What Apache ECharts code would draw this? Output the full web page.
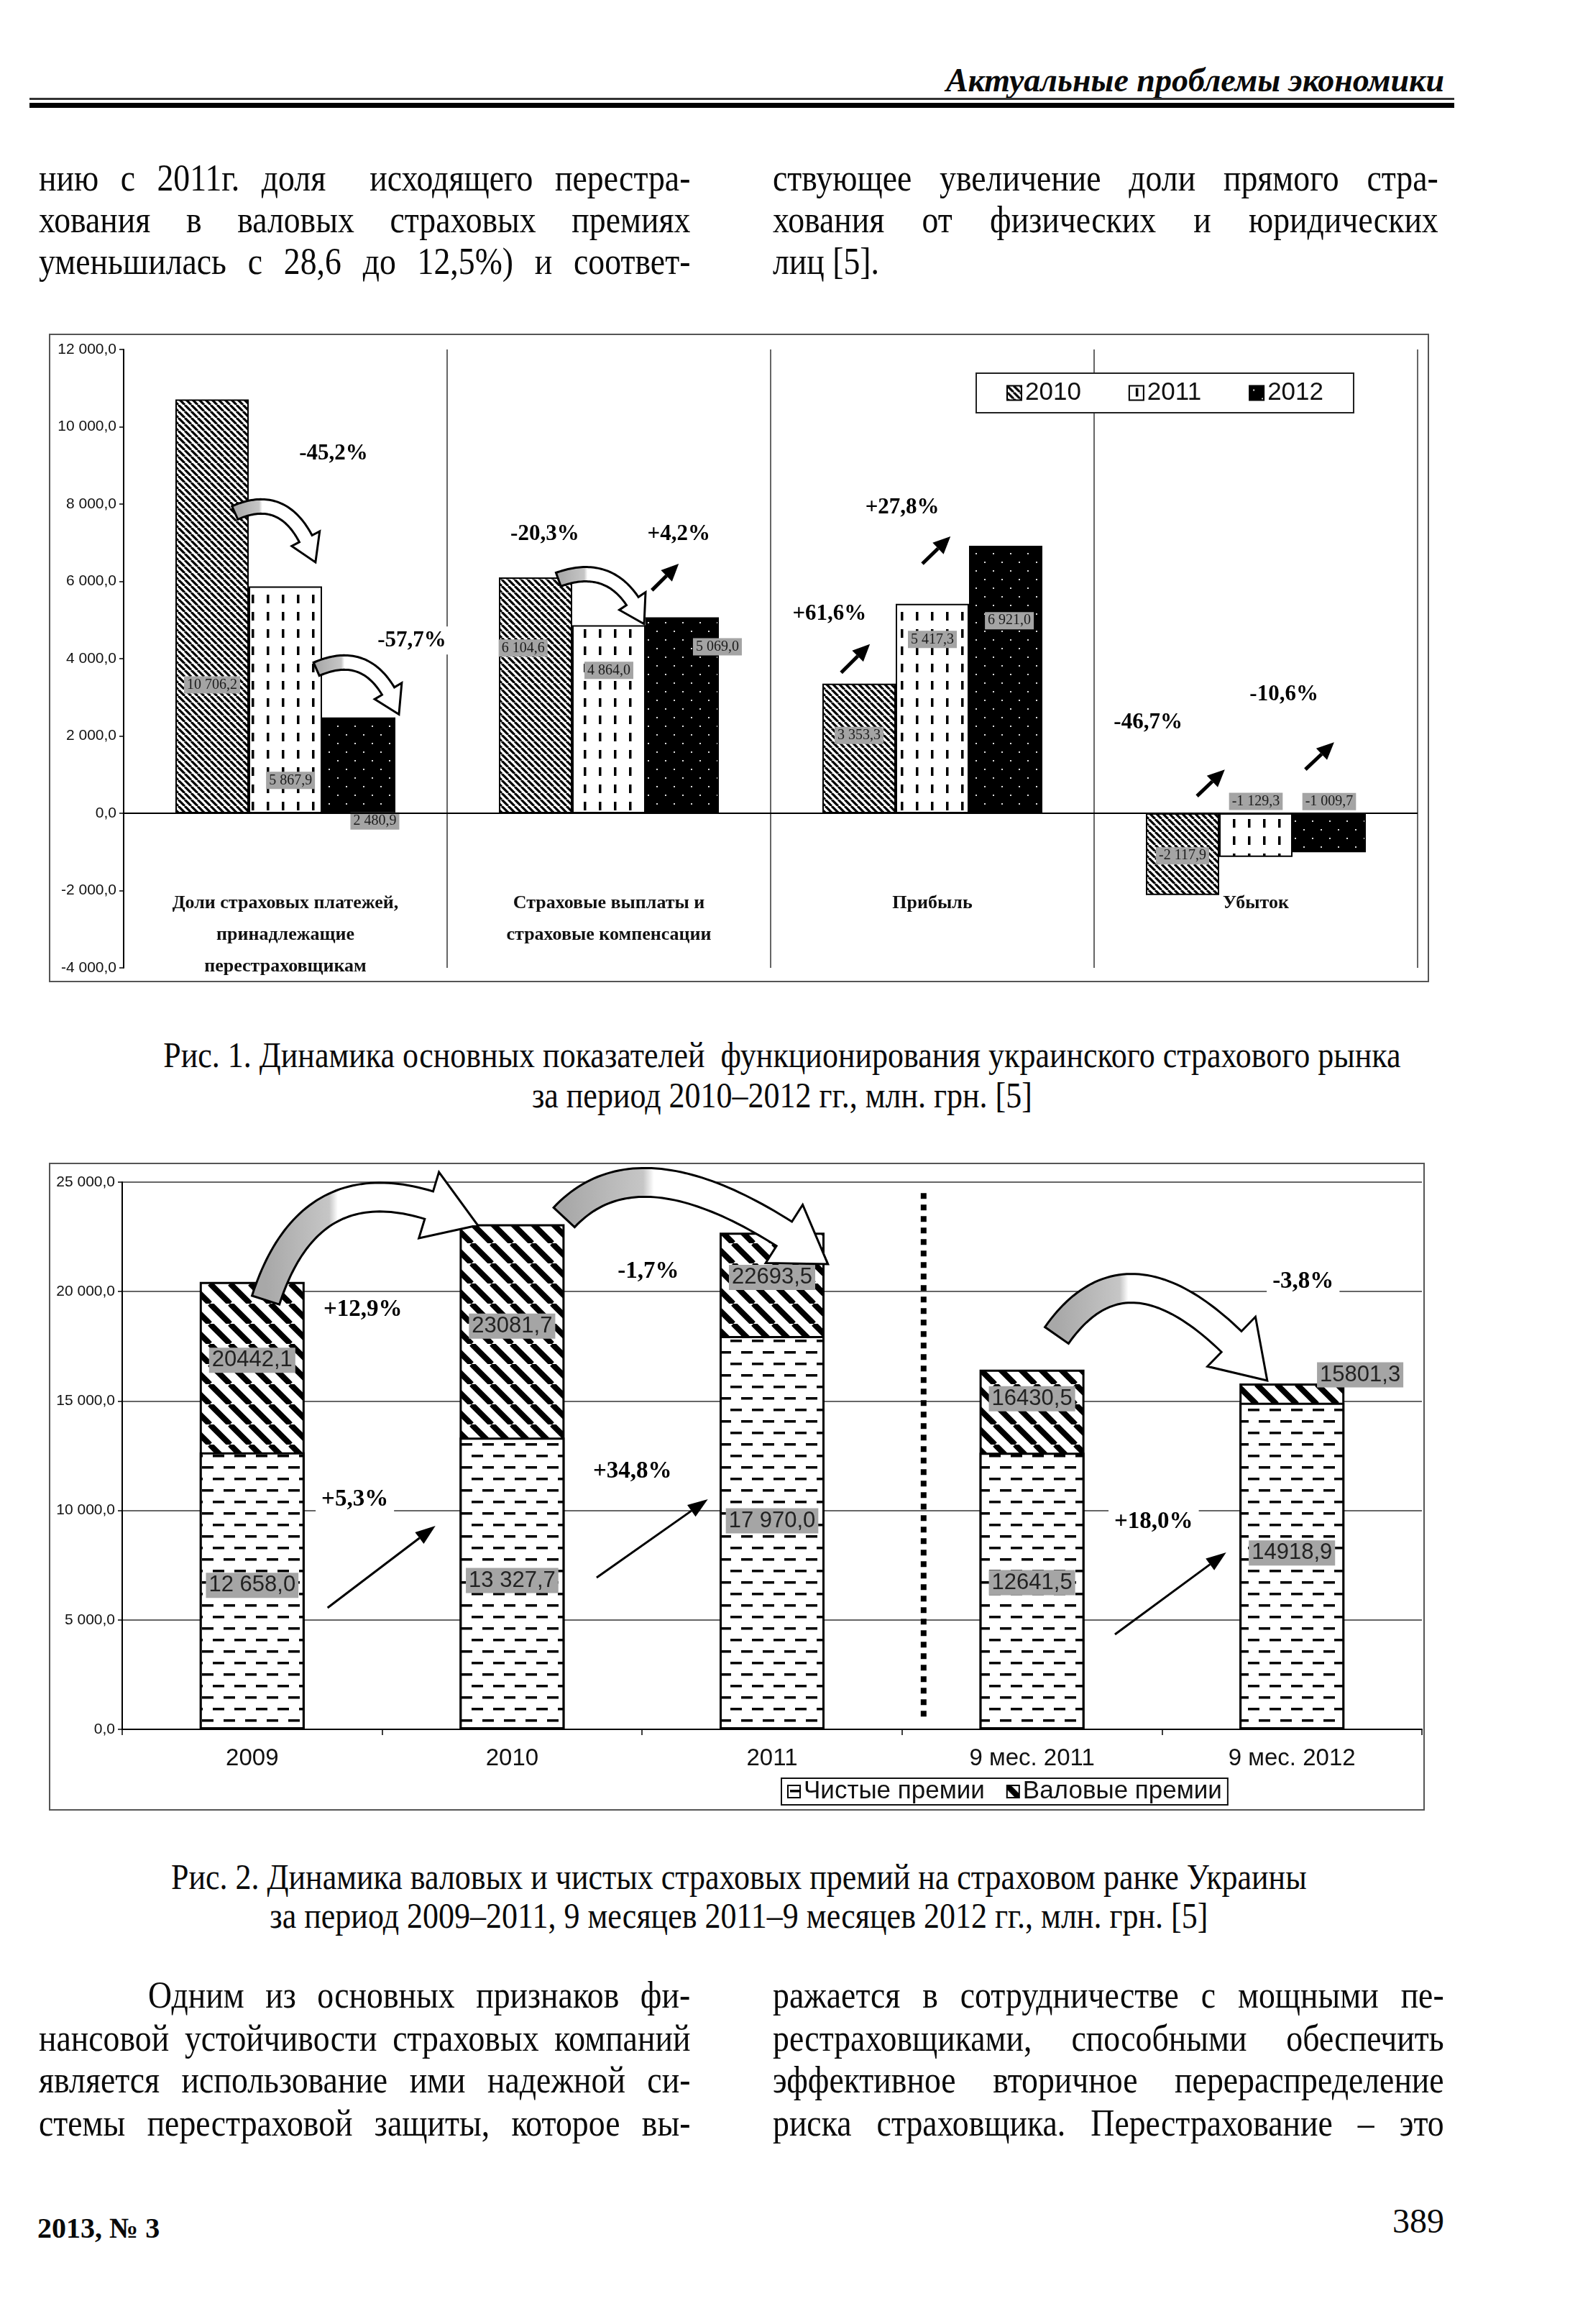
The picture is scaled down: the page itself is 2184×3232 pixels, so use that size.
<!DOCTYPE html>
<html><head><meta charset="utf-8">
<script src="https://cdn.jsdelivr.net/npm/echarts@6/dist/echarts.min.js"></script>
<style>
body{margin:0;background:#fff;width:2184px;height:3232px;position:relative;overflow:hidden;font-family:"Liberation Serif",serif;color:#0a0a0a}
.ln{position:absolute;font-size:52px;line-height:58px;height:58px;text-align:justify;text-align-last:justify;white-space:nowrap;transform-origin:0 0;transform:scaleX(0.88)}
.ln.last{text-align-last:left}
.cap{position:absolute;font-size:50px;line-height:56px;text-align:center;white-space:nowrap;transform-origin:0 0;transform:scaleX(0.88)}
.box{position:absolute;border:2px solid #555;box-sizing:border-box;pointer-events:none}
</style></head>
<body>
<div style="position:absolute;right:175px;top:86px;font:italic bold 46px 'Liberation Serif';line-height:52px;">Актуальные проблемы экономики</div>
<div style="position:absolute;left:41px;top:136px;width:1982px;height:3px;background:#333"></div>
<div style="position:absolute;left:41px;top:143px;width:1982px;height:7px;background:#000"></div>

<div class="ln" style="left:54px;top:219px;width:1030px">нию с 2011г. доля&nbsp; исходящего перестра-</div>
<div class="ln" style="left:54px;top:277px;width:1030px">хования в валовых страховых премиях</div>
<div class="ln" style="left:54px;top:335px;width:1030px">уменьшилась с 28,6 до 12,5%) и соответ-</div>
<div class="ln" style="left:1075px;top:219px;width:1052px">ствующее увеличение доли прямого стра-</div>
<div class="ln" style="left:1075px;top:277px;width:1052px">хования от физических и юридических</div>
<div class="ln last" style="left:1075px;top:335px;width:1052px">лиц [5].</div>

<div id="c1" style="position:absolute;left:68px;top:464px;width:1920px;height:902px"></div>
<div class="box" style="left:68px;top:464px;width:1920px;height:902px"></div>

<div class="cap" style="left:68px;top:1439px;width:2318px">Рис. 1. Динамика основных показателей&nbsp; функционирования украинского страхового рынка</div>
<div class="cap" style="left:68px;top:1495px;width:2318px">за период 2010–2012 гг., млн. грн. [5]</div>

<div id="c2" style="position:absolute;left:68px;top:1617px;width:1914px;height:901px"></div>
<div class="box" style="left:68px;top:1617px;width:1914px;height:901px"></div>

<div class="cap" style="left:0px;top:2582px;width:2336px">Рис. 2. Динамика валовых и чистых страховых премий на страховом ранке Украины</div>
<div class="cap" style="left:0px;top:2636px;width:2336px">за период 2009–2011, 9 месяцев 2011–9 месяцев 2012 гг., млн. грн. [5]</div>

<div class="ln" style="left:206px;top:2746px;width:857px">Одним из основных признаков фи-</div>
<div class="ln" style="left:54px;top:2806px;width:1030px">нансовой устойчивости страховых компаний</div>
<div class="ln" style="left:54px;top:2864px;width:1030px">является использование ими надежной си-</div>
<div class="ln" style="left:54px;top:2924px;width:1030px">стемы перестраховой защиты, которое вы-</div>
<div class="ln" style="left:1075px;top:2746px;width:1061px">ражается в сотрудничестве с мощными пе-</div>
<div class="ln" style="left:1075px;top:2806px;width:1061px">рестраховщиками, способными обеспечить</div>
<div class="ln" style="left:1075px;top:2864px;width:1061px">эффективное вторичное перераспределение</div>
<div class="ln" style="left:1075px;top:2924px;width:1061px">риска страховщика. Перестрахование – это</div>

<div style="position:absolute;left:52px;top:3076px;font:bold 40px 'Liberation Serif';line-height:46px">2013, № 3</div>
<div style="position:absolute;right:175px;top:3062px;font:48px 'Liberation Serif';line-height:54px">389</div>

<script>
// ---------- DATA ----------
const cats1 = ['Доли страховых платежей,\nпринадлежащие\nперестраховщикам', 'Страховые выплаты и\nстраховые компенсации', 'Прибыль', 'Убыток'];
const years1 = ['2010', '2011', '2012'];
const vals2010 = [10706.2, 6104.6, 3353.3, -2117.9];
const vals2011 = [5867.9, 4864.0, 5417.3, -1129.3];
const vals2012 = [2480.9, 5069.0, 6921.0, -1009.7];
const yMin1 = -4000, yMax1 = 12000, yStep1 = 2000;

const cats2 = ['2009', '2010', '2011', '9 мес. 2011', '9 мес. 2012'];
const netPrem = [12658.0, 13327.7, 17970.0, 12641.5, 14918.9];
const grossPrem = [20442.1, 23081.7, 22693.5, 16430.5, 15801.3];
const netSpaced = [true, true, true, false, false];
const yMin2 = 0, yMax2 = 25000, yStep2 = 5000;
const legend2 = ['Чистые премии', 'Валовые премии'];

// annotation texts
const pctText1 = ['-45,2%', '-57,7%', '-20,3%', '+4,2%', '+27,8%', '+61,6%', '-46,7%', '-10,6%'];
const pctText2 = ['+12,9%', '+5,3%', '-1,7%', '+34,8%', '-3,8%', '+18,0%'];

// ---------- label placement / annotation anchors (styling, in data space) ----------
const lab2010 = [[50, 69], [33, 30], [50, 40], [50, 52]];
const lab2011 = [[57, 85.5], [50, 24], [50, 17], [50, -27]];
const lab2012 = [[72, 108], [98, 15], [55, 28], [50, -30]];
const labNet = [[50, 48], [50, 49], [50, 47], [50, 47], [50, 46]];
const labGross = [[50, 17.5], [50, 20.2], [50, 9], [50, 8.1], [115, -2.5]];

const pctAt1 = [[0.149, 9295], [0.391, 4471], [0.802, 7217], [1.216, 7217], [1.907, 7904], [1.682, 5158], [2.667, 2338], [3.087, 3061]];
const arrows1 = [[[1.133, 5770], [1.216, 6457]], [[1.718, 3636], [1.807, 4379]], [[1.969, 6457], [2.056, 7161]], [[2.818, 445], [2.904, 1132]], [[3.153, 1132], [3.242, 1837]]];
const curves1 = [[[-0.156, 7774], [0.018, 8423], [0.093, 6493]], [[0.096, 3729], [0.273, 4379], [0.351, 2560]], [[0.844, 6048], [1.029, 6605], [1.109, 4898]]];

const pctAt2 = [[0.426, 19184], [0.395, 10512], [1.524, 20925], [1.463, 11793], [4.043, 20466], [3.468, 9494]];
const arrows2 = [[[0.290, 5552], [0.705, 9297]], [[1.325, 6931], [1.753, 10512]], [[3.319, 4336], [3.747, 8081]]];
const curves2 = [[[0.052, 19611], [0.246, 26773], [0.868, 23029]], [[1.200, 23390], [1.518, 27430], [2.215, 21253]], [[3.095, 18001], [3.399, 23159], [3.905, 15933]]];
const divider2 = [[2.583, 24500], [2.583, 500]];

// ---------- helpers ----------
function fmt(v, spaced) {
  const s = Math.abs(v).toFixed(1);
  let [i, d] = s.split('.');
  if (spaced) i = i.replace(/\B(?=(\d{3})+(?!\d))/g, ' ');
  return (v < 0 ? '-' : '') + i + ',' + d;
}
function mkCanvas(w, h, draw) {
  const c = document.createElement('canvas'); c.width = w; c.height = h;
  draw(c.getContext('2d'), w, h); return c;
}
function hatch(s, lw) {
  return mkCanvas(s, s, (g, w, h) => {
    g.fillStyle = '#fff'; g.fillRect(0, 0, w, h);
    g.strokeStyle = '#000'; g.lineWidth = lw; g.beginPath();
    for (const k of [-w, 0, w]) { g.moveTo(k, 0); g.lineTo(k + w, h); }
    g.stroke();
  });
}
const patH1 = hatch(9, 3.2);
const patV = mkCanvas(21, 24, (g, w, h) => { g.fillStyle = '#fff'; g.fillRect(0, 0, w, h); g.fillStyle = '#000'; g.fillRect(9, 3, 3.5, 12); });
const patDots = mkCanvas(24, 24, (g, w, h) => { g.fillStyle = '#000'; g.fillRect(0, 0, w, h); g.fillStyle = '#ddd'; g.fillRect(5, 5, 2, 2); g.fillRect(17, 17, 2, 2); });
const patH2 = hatch(28, 8);
const patDash = mkCanvas(30, 32, (g, w, h) => {
  g.fillStyle = '#fff'; g.fillRect(0, 0, w, h); g.fillStyle = '#000';
  g.fillRect(3, 6, 16, 3.5); g.fillRect(18, 22, 12, 3.5); g.fillRect(0, 22, 4, 3.5);
});

function dataPx(chart, p) {
  const a = chart.convertToPixel({ gridIndex: 0 }, [0, p[1]]);
  const b = chart.convertToPixel({ gridIndex: 0 }, [1, p[1]]);
  return [a[0] + p[0] * (b[0] - a[0]), a[1]];
}
function textEl(pt, text, size) {
  return { type: 'text', z: 101, x: pt[0], y: pt[1], style: { text, font: 'bold ' + size + 'px "Liberation Serif"', fill: '#000', align: 'center', verticalAlign: 'middle', backgroundColor: '#fff', padding: [4, 8] } };
}
function straightArrow(a, b, shaft, hl, hw) {
  const dx = b[0] - a[0], dy = b[1] - a[1], L = Math.hypot(dx, dy), ux = dx / L, uy = dy / L;
  const base = [b[0] - ux * hl, b[1] - uy * hl], nx = -uy, ny = ux;
  return [
    { type: 'line', z: 100, shape: { x1: a[0], y1: a[1], x2: base[0], y2: base[1] }, style: { stroke: '#000', lineWidth: shaft } },
    { type: 'polygon', z: 100, shape: { points: [b, [base[0] + nx * hw / 2, base[1] + ny * hw / 2], [base[0] - nx * hw / 2, base[1] - ny * hw / 2]] }, style: { fill: '#000' } }
  ];
}
function curvedArrow(P0, P1, P2, w, hw, hl) {
  const B = t => [(1 - t) * (1 - t) * P0[0] + 2 * (1 - t) * t * P1[0] + t * t * P2[0], (1 - t) * (1 - t) * P0[1] + 2 * (1 - t) * t * P1[1] + t * t * P2[1]];
  const D = t => [2 * (1 - t) * (P1[0] - P0[0]) + 2 * t * (P2[0] - P1[0]), 2 * (1 - t) * (P1[1] - P0[1]) + 2 * t * (P2[1] - P1[1])];
  const N = 200; let L = 0, prev = B(0); const lens = [0];
  for (let i = 1; i <= N; i++) { const p = B(i / N); L += Math.hypot(p[0] - prev[0], p[1] - prev[1]); lens.push(L); prev = p; }
  let tb = 1; for (let i = 0; i <= N; i++) { if (L - lens[i] <= hl) { tb = i / N; break; } }
  const left = [], right = [], M = 50;
  for (let i = 0; i <= M; i++) {
    const t = tb * i / M, p = B(t), d = D(t), n = Math.hypot(d[0], d[1]), nx = -d[1] / n, ny = d[0] / n;
    left.push([p[0] + nx * w / 2, p[1] + ny * w / 2]); right.push([p[0] - nx * w / 2, p[1] - ny * w / 2]);
  }
  const pb = B(tb), db = D(tb), nb = Math.hypot(db[0], db[1]), nx = -db[1] / nb, ny = db[0] / nb;
  const pts = [...left, [pb[0] + nx * hw / 2, pb[1] + ny * hw / 2], P2, [pb[0] - nx * hw / 2, pb[1] - ny * hw / 2], ...right.reverse()];
  return {
    type: 'polygon', z: 99, shape: { points: pts },
    style: {
      fill: { type: 'linear', x: P0[0], y: 0, x2: P2[0], y2: 0, global: true, colorStops: [{ offset: 0, color: '#a8a8a8' }, { offset: 0.3, color: '#c6c6c6' }, { offset: 0.34, color: '#ffffff' }, { offset: 1, color: '#ffffff' }] },
      stroke: '#000', lineWidth: 3, lineJoin: 'miter'
    }
  };
}

// ---------- CHART 1 ----------
const chart1 = echarts.init(document.getElementById('c1'));
const lbl1 = { show: true, fontFamily: 'Liberation Serif', fontSize: 20, color: '#1b1b1b', backgroundColor: '#a4a4a4', padding: [2, 4], align: 'center', verticalAlign: 'middle', formatter: p => fmt(p.value, true) };
function series1(name, vals, pos, pat) {
  return {
    name, type: 'bar', barWidth: 102, barGap: '0%',
    data: vals.map((v, i) => ({ value: v, label: { position: [pos[i][0] + '%', pos[i][1] + '%'] } })),
    itemStyle: { color: { image: pat, repeat: 'repeat' }, borderColor: '#000', borderWidth: 2 },
    label: lbl1, emphasis: { disabled: true }
  };
}
const s1 = [series1(years1[0], vals2010, lab2010, patH1), series1(years1[1], vals2011, lab2011, patV), series1(years1[2], vals2012, lab2012, patDots)];
s1[0].markLine = { silent: true, symbol: 'none', label: { show: false }, lineStyle: { color: '#000', width: 2, type: 'solid' }, data: [{ yAxis: 0 }] };
chart1.setOption({
  animation: false,
  grid: { left: 104, right: 16, top: 22, bottom: 19 },
  legend: {
    data: years1, left: 1290, top: 55, itemWidth: 20, itemHeight: 20, itemGap: 66, icon: 'rect',
    textStyle: { fontFamily: 'Liberation Sans', fontSize: 35, color: '#111' },
    borderColor: '#222', borderWidth: 2, padding: [10, 42], backgroundColor: '#fff'
  },
  xAxis: {
    type: 'category', data: cats1,
    axisLine: { show: false, onZero: false }, axisTick: { show: false },
    splitLine: { show: true, lineStyle: { color: '#333', width: 1.5 } },
    axisLabel: { interval: 0, margin: -112, verticalAlign: 'top', fontFamily: 'Liberation Serif', fontWeight: 'bold', fontSize: 26, lineHeight: 44, color: '#111' }
  },
  yAxis: {
    type: 'value', min: yMin1, max: yMax1, interval: yStep1,
    axisLine: { show: true, lineStyle: { color: '#000', width: 2 } },
    axisTick: { show: true, length: 6, lineStyle: { color: '#000', width: 1.5 } },
    splitLine: { show: false },
    axisLabel: { formatter: v => fmt(v, true), fontFamily: 'Liberation Sans', fontSize: 21, color: '#111', margin: 10 }
  },
  series: s1
});
{
  const g = [];
  curves1.forEach(c => g.push(curvedArrow(dataPx(chart1, c[0]), dataPx(chart1, c[1]), dataPx(chart1, c[2]), 20, 44, 36)));
  arrows1.forEach(a => g.push(...straightArrow(dataPx(chart1, a[0]), dataPx(chart1, a[1]), 5, 24, 22)));
  pctText1.forEach((t, i) => g.push(textEl(dataPx(chart1, pctAt1[i]), t, 31)));
  chart1.setOption({ graphic: g });
}

// ---------- CHART 2 ----------
const chart2 = echarts.init(document.getElementById('c2'));
const lbl2 = { show: true, fontFamily: 'Liberation Sans', fontSize: 31, color: '#222', backgroundColor: '#a5a5a5', padding: [2, 4], align: 'center', verticalAlign: 'middle' };
chart2.setOption({
  animation: false,
  grid: { left: 102, right: 4, top: 27, bottom: 113 },
  legend: {
    data: legend2, left: 1019, top: 856, itemWidth: 17, itemHeight: 17, itemGap: 30, icon: 'rect',
    textStyle: { fontFamily: 'Liberation Sans', fontSize: 35, color: '#111' },
    borderColor: '#111', borderWidth: 2, padding: [1, 8], backgroundColor: '#fff'
  },
  xAxis: {
    type: 'category', data: cats2,
    axisLine: { show: true, lineStyle: { color: '#000', width: 2 } },
    axisTick: { show: true, length: 8, lineStyle: { color: '#000', width: 1.5 } },
    axisLabel: { interval: 0, margin: 24, fontFamily: 'Liberation Sans', fontSize: 33, color: '#111' }
  },
  yAxis: {
    type: 'value', min: yMin2, max: yMax2, interval: yStep2,
    axisLine: { show: true, lineStyle: { color: '#000', width: 2 } },
    axisTick: { show: true, length: 6, lineStyle: { color: '#000', width: 1.5 } },
    splitLine: { show: true, lineStyle: { color: '#333', width: 1.5 } },
    axisLabel: { formatter: v => fmt(v, true), fontFamily: 'Liberation Sans', fontSize: 21, color: '#111', margin: 10 }
  },
  series: [
    {
      name: legend2[1], type: 'bar', barWidth: 146, barGap: '-100%',
      data: grossPrem.map((v, i) => ({ value: v, label: { position: [labGross[i][0] + '%', labGross[i][1] + '%'] } })),
      itemStyle: { color: { image: patH2, repeat: 'repeat' }, borderColor: '#000', borderWidth: 3 },
      label: Object.assign({}, lbl2, { formatter: p => fmt(p.value, false) }), emphasis: { disabled: true }, z: 2
    },
    {
      name: legend2[0], type: 'bar', barWidth: 146, barGap: '-100%',
      data: netPrem.map((v, i) => ({ value: v, label: { position: [labNet[i][0] + '%', labNet[i][1] + '%'] } })),
      itemStyle: { color: { image: patDash, repeat: 'repeat' }, borderColor: '#000', borderWidth: 3 },
      label: Object.assign({}, lbl2, { formatter: p => fmt(p.value, netSpaced[p.dataIndex]) }), emphasis: { disabled: true }, z: 3
    }
  ]
});
{
  const g = [];
  const d0 = dataPx(chart2, divider2[0]), d1 = dataPx(chart2, divider2[1]);
  g.push({ type: 'line', z: 98, shape: { x1: d0[0], y1: d0[1], x2: d1[0], y2: d1[1] }, style: { stroke: '#000', lineWidth: 8, lineDash: [8, 8] } });
  curves2.forEach(c => g.push(curvedArrow(dataPx(chart2, c[0]), dataPx(chart2, c[1]), dataPx(chart2, c[2]), 40, 96, 75)));
  arrows2.forEach(a => g.push(...straightArrow(dataPx(chart2, a[0]), dataPx(chart2, a[1]), 3, 28, 20)));
  pctText2.forEach((t, i) => g.push(textEl(dataPx(chart2, pctAt2[i]), t, 33)));
  chart2.setOption({ graphic: g });
}
</script>
</body></html>
